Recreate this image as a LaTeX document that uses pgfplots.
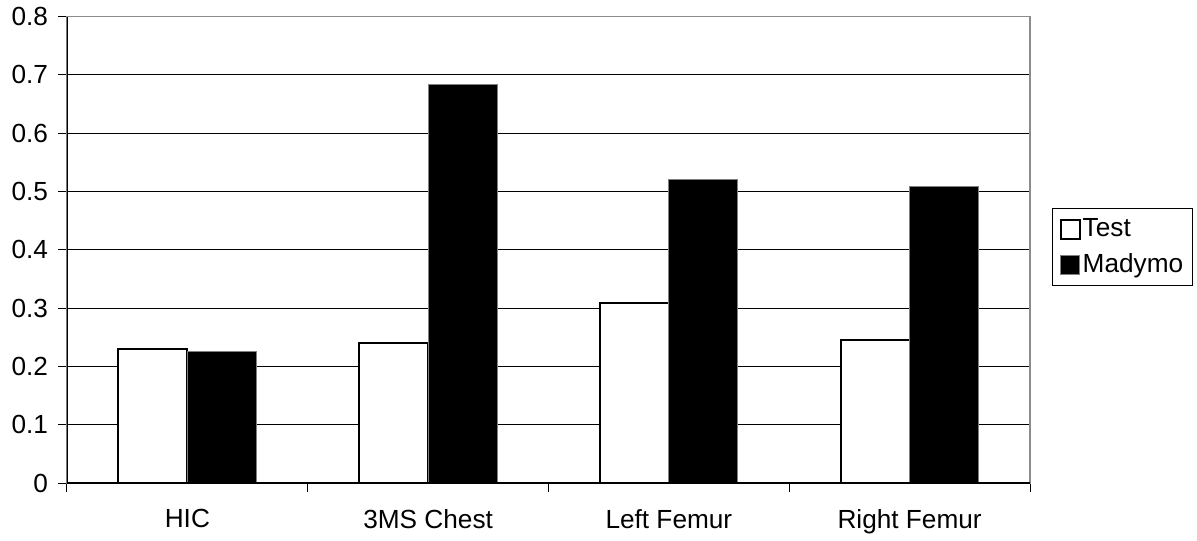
\documentclass[border=0pt]{standalone}
\usepackage{fontspec}
\setmainfont{Liberation Sans}
\usepackage{pgfplots}
\pgfplotsset{compat=1.18}

\begin{document}
\begin{tikzpicture}[font=\fontsize{13.1}{15.5}\selectfont]
\begin{axis}[
    anchor=south west,
    at={(0,0)},
    scale only axis,
    width=481.5pt,
    height=233.2pt,
    ybar=0pt,
    bar width=0.287,
    xmin=-0.5, xmax=3.5,
    ymin=0, ymax=0.8,
    enlargelimits=false,
    xtick={0,1,2,3},
    xticklabels={HIC, 3MS Chest, Left Femur, Right Femur},
    minor xtick={-0.5,0.5,1.5,2.5,3.5},
    ytick={0,0.1,...,0.8},
    xtick pos=bottom,
    ytick pos=left,
    yticklabel style={/pgf/number format/fixed, /pgf/number format/precision=1},
    /pgf/number format/assume math mode=true,
    ymajorgrids,
    grid style={black, line width=0.5pt},
    axis line style={draw=gray!90, line width=0.6pt},
    tick align=outside,
    major tick length=4.5pt,
    minor tick length=4.5pt,
    major x tick style={draw=none},
    minor x tick style={black, line width=0.5pt},
    ytick style={black, line width=0.5pt},
    xticklabel style={yshift=-5pt},
    yticklabel style={xshift=-1.5pt},
    legend style={at={([xshift=11pt]1,0.505)}, anchor=west, draw=black, line width=0.5pt,
        row sep=3pt, inner xsep=3.5pt, inner ysep=3pt,
        nodes={inner xsep=1pt}},
    legend cell align=left,
    legend image code/.code={\draw[#1] (0pt,-4.8pt) rectangle (9.6pt,4.8pt);},
]
\addplot[draw=black, fill=white, line width=1pt] coordinates {(0,0.229) (1,0.241) (2,0.308) (3,0.246)};
\addplot[draw=gray, fill=black, line width=0.5pt] coordinates {(0,0.226) (1,0.684) (2,0.520) (3,0.508)};
\legend{Test, Madymo}
\draw[black, line width=0.6pt] (rel axis cs:0,1) -- (rel axis cs:0,0) -- (rel axis cs:1,0);
\end{axis}
\pgfresetboundingbox
\useasboundingbox (-33.5pt,-28.5pt) rectangle (565pt,241.5pt);
\end{tikzpicture}
\end{document}
